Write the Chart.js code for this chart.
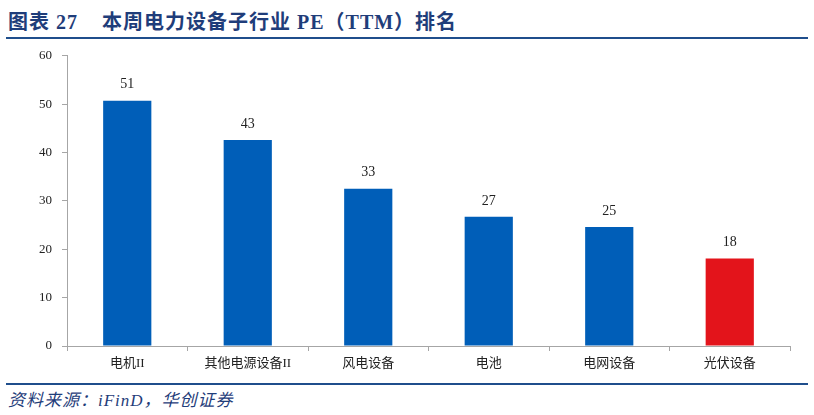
<!DOCTYPE html>
<html>
<head>
<meta charset="utf-8">
<script src="https://cdn.jsdelivr.net/npm/chart.js@4.4.1/dist/chart.umd.min.js"></script>
<style>
  body { margin: 0; background: #fff; width: 814px; height: 415px; overflow: hidden; position: relative; }
  .title { position: absolute; left: 8px; top: 6px; font: bold 20px "Liberation Serif", "Noto Sans CJK SC", serif; color: #1F3D7A; white-space: pre; letter-spacing: 1px; }
  .rule { position: absolute; left: 6px; width: 802px; height: 2px; background: #1F4E8C; }
  .source { position: absolute; left: 8px; top: 386px; font: italic 17px "Liberation Serif", "Noto Sans CJK SC", serif; color: #1F3D7A; letter-spacing: 1px; }
  #wrap { position: absolute; left: 0; top: 38px; width: 814px; height: 342px; }
</style>
</head>
<body>
<div class="title">图表 27    本周电力设备子行业 PE（TTM）排名</div>
<div class="rule" style="top:37px"></div>
<div id="wrap"><canvas id="peChart"></canvas></div>
<div class="rule" style="top:383px"></div>
<div class="source">资料来源：iFinD，华创证券</div>
<script>
// 子行业及PE(TTM)
const categories = ['电机II', '其他电源设备II', '风电设备', '电池', '电网设备', '光伏设备'];
const peValues = [50.7, 42.6, 32.5, 26.7, 24.6, 18.1];
const barColors = ['#005EB8', '#005EB8', '#005EB8', '#005EB8', '#005EB8', '#E3141B'];
const yTicks = [0, 10, 20, 30, 40, 50, 60];

const fontFamily = '"Liberation Serif", "Noto Sans CJK SC", serif';

// 柱子上方的数值
const valueLabels = {
    id: 'valueLabels',
    afterDatasetsDraw(chart) {
        const ctx = chart.ctx;
        const meta = chart.getDatasetMeta(0);
        ctx.save();
        ctx.font = '14px ' + fontFamily;
        ctx.fillStyle = '#222';
        ctx.textAlign = 'center';
        ctx.textBaseline = 'bottom';
        meta.data.forEach((bar, i) => {
            ctx.fillText(Math.round(peValues[i]), bar.x, bar.y - 9);
        });
        ctx.restore();
    }
};

const ctx = document.getElementById('peChart').getContext('2d');
new Chart(ctx, {
    type: 'bar',
    data: {
        labels: categories,
        datasets: [{
            data: peValues,
            backgroundColor: barColors,
            categoryPercentage: 0.4,
            barPercentage: 1
        }]
    },
    options: {
        responsive: true,
        maintainAspectRatio: false,
        animation: false,
        layout: { padding: { top: 11, right: 24, left: 0, bottom: 0 } },
        plugins: { legend: { display: false }, tooltip: { enabled: false } },
        scales: {
            x: {
                grid: { offset: true, drawOnChartArea: false, drawTicks: true, tickLength: 5, color: '#A6A6A6' },
                border: { color: '#A6A6A6', width: 1 },
                ticks: { color: '#222', font: { size: 13, family: fontFamily }, padding: 5, maxRotation: 0 },
                afterFit(scale) { scale.height = 34; }
            },
            y: {
                min: 0,
                max: 60,
                afterBuildTicks(scale) { scale.ticks = yTicks.map(v => ({ value: v })); },
                grid: { drawOnChartArea: false, drawTicks: true, tickLength: 5, color: '#A6A6A6' },
                border: { color: '#A6A6A6', width: 1 },
                ticks: { color: '#222', font: { size: 13, family: fontFamily }, padding: 10 },
                afterFit(scale) { scale.width = 67; }
            }
        }
    },
    plugins: [valueLabels]
});
</script>
</body>
</html>
